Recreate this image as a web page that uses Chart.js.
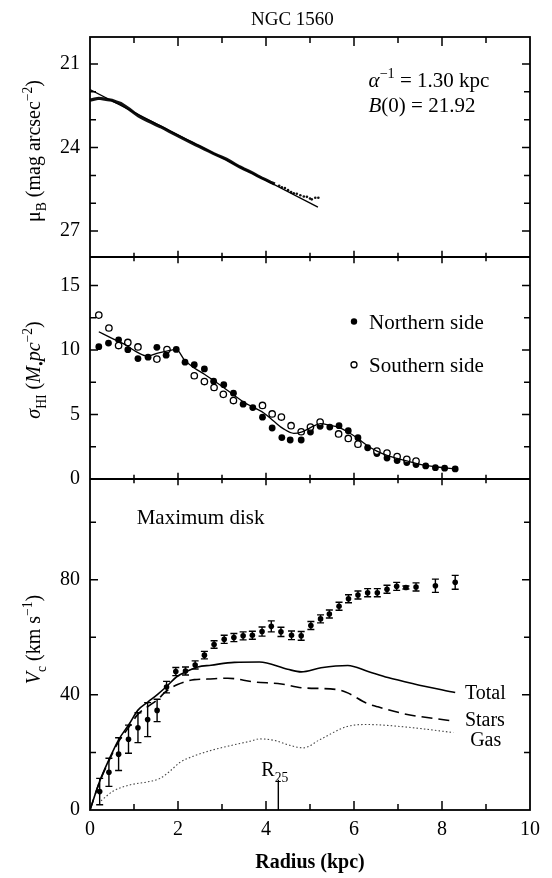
<!DOCTYPE html>
<html><head><meta charset="utf-8">
<script src="https://cdn.jsdelivr.net/npm/chart.js@4.4.1/dist/chart.umd.min.js"></script>
<style>html,body{margin:0;padding:0;background:#fff;}canvas{display:block;}</style>
</head><body>
<canvas id="c" width="552" height="878" style="width:552px;height:878px"></canvas>
<script>
// ---------------- DATA ----------------
const chartTitle = 'NGC 1560';
const xTickLabels = [0, 2, 4, 6, 8, 10];
const xMinorTicks = [1, 3, 5, 7, 9];

// Panel 1: surface brightness profile
const muTickLabels = [21, 24, 27];
const muMinorTicks = [22, 23, 25, 26];
const profR = [0,0.1,0.2,0.3,0.4,0.5,0.6,0.7,0.8,0.9,1.0,1.1,1.2,1.3,1.4,1.5,1.6,1.7,1.8,1.9,2.0,2.1,2.2,2.3,2.4,2.5,2.6,2.7,2.8,2.9,3.0,3.1,3.2,3.3,3.4,3.5,3.6,3.7,3.8,3.9,4.0,4.1,4.2];
const profMu = [22.30,22.26,22.23,22.25,22.28,22.30,22.36,22.42,22.52,22.63,22.75,22.86,22.95,23.03,23.10,23.18,23.25,23.33,23.42,23.50,23.58,23.66,23.74,23.82,23.90,23.97,24.05,24.13,24.21,24.28,24.35,24.42,24.51,24.60,24.69,24.77,24.84,24.92,25.01,25.09,25.16,25.24,25.31];
const outerR = [4.3,4.36,4.43,4.5,4.57,4.63,4.7,4.78,4.86,4.93,5.0,5.04,5.12,5.19];
const outerMu = [25.37,25.43,25.45,25.53,25.6,25.64,25.66,25.71,25.76,25.77,25.83,25.86,25.8,25.8];
const expFitR = [0, 5.18];
const expFitMu = [21.92, 26.14];

// Panel 2: HI surface density
const sigTickLabels = [0, 5, 10, 15];
const sigMinorTicks = [2.5, 7.5, 12.5];
const northR = [0.20,0.42,0.65,0.86,1.09,1.32,1.52,1.73,1.96,2.16,2.37,2.6,2.81,3.04,3.26,3.48,3.7,3.92,4.14,4.36,4.55,4.8,5.01,5.23,5.45,5.66,5.87,6.09,6.31,6.52,6.75,6.98,7.2,7.41,7.63,7.85,8.06,8.3];
const northS = [10.25,10.53,10.78,10.02,9.33,9.44,10.2,9.59,10.04,9.05,8.85,8.53,7.58,7.31,6.65,5.8,5.53,4.79,3.95,3.21,3.02,3.02,3.64,4.08,4.02,4.13,3.74,3.2,2.42,1.97,1.62,1.43,1.27,1.12,1.01,0.88,0.84,0.78];
const southR = [0.2,0.43,0.65,0.86,1.09,1.52,1.75,2.37,2.6,2.82,3.03,3.26,3.92,4.14,4.35,4.57,4.8,5.01,5.23,5.65,5.87,6.09,6.52,6.75,6.98,7.2,7.41];
const southS = [12.7,11.7,10.34,10.58,10.23,9.29,10.03,8.0,7.55,7.09,6.56,6.08,5.7,5.04,4.8,4.13,3.66,4.03,4.41,3.49,3.14,2.7,2.16,2.01,1.74,1.53,1.39];
const hiFitR = [0.2,0.49,0.79,1.09,1.31,1.54,1.77,1.96,2.15,2.37,2.6,2.82,3.05,3.28,3.5,3.73,3.95,4.18,4.4,4.63,4.82,5.09,5.24,5.47,5.66,5.88,6.09,6.3,6.52,6.75,6.98,7.2,7.43,7.66,7.89,8.12,8.3];
const hiFitS = [11.41,10.92,10.43,9.79,9.52,9.76,9.93,10.04,9.21,8.6,8.12,7.61,7.05,6.47,5.94,5.53,5.12,4.47,3.88,3.54,3.66,4.11,4.29,4.15,4.0,3.6,3.13,2.6,2.16,1.83,1.59,1.4,1.2,1.04,0.93,0.84,0.78];

// Panel 3: rotation curve
const vTickLabels = [0, 40, 80];
const vMinorTicks = [20, 60, 100];
const obsR = [0.22,0.43,0.65,0.875,1.09,1.31,1.525,1.74,1.95,2.17,2.39,2.6,2.82,3.05,3.27,3.48,3.69,3.91,4.12,4.34,4.58,4.8,5.02,5.24,5.44,5.66,5.875,6.09,6.31,6.53,6.75,6.97,7.18,7.41,7.85,8.3];
const obsV = [6.4,13.1,19.4,24.6,28.6,31.4,34.6,42.7,48.1,48.3,50.4,53.8,57.5,59.3,59.9,60.5,60.7,62.0,63.8,61.9,60.7,60.5,64.1,66.4,68.1,70.8,73.4,74.7,75.5,75.5,76.7,77.7,77.3,77.5,77.9,79.1];
const obsErr = [4.6,4.9,5.7,4.9,5.2,5.9,3.9,2.0,1.4,1.4,1.4,1.3,1.3,1.4,1.4,1.4,1.4,1.6,1.9,1.6,1.5,1.5,1.4,1.4,1.4,1.4,1.4,1.4,1.4,1.4,1.4,1.4,0.5,1.4,2.3,2.4];
const totR = [0,0.22,0.44,0.65,0.88,1.09,1.32,1.53,1.74,1.97,2.22,2.45,2.75,3.28,3.85,4.49,4.8,5.25,5.86,6.32,6.77,7.37,8.3];
const totV = [0,10.0,17.8,24.4,29.6,34.7,37.6,40.1,42.9,46.3,48.3,49.7,50.3,51.3,51.4,48.9,48.0,49.4,50.2,48.1,46.0,43.8,40.8];
const starR = [0,0.22,0.44,0.65,0.88,1.09,1.32,1.53,1.74,1.99,2.21,2.37,2.67,3.13,3.73,4.35,4.8,5.64,5.87,6.3,6.53,7.21,7.82,8.27];
const starV = [0,9.8,17.4,23.8,28.7,33.3,36.0,38.3,41.4,43.6,44.8,45.3,45.5,45.8,44.5,43.8,42.5,41.8,40.6,37.0,35.9,33.2,31.8,30.9];
const gasR = [0.25,0.52,0.9,1.28,1.58,1.81,2.04,2.35,2.8,3.26,3.64,3.86,4.24,4.47,4.85,5.23,5.84,6.29,7.2,8.26];
const gasV = [3.2,6.5,8.7,9.7,10.9,13.4,16.5,18.7,20.9,22.6,23.9,24.7,24.0,22.8,21.6,24.5,29.0,29.7,28.8,26.9];
const r25 = 4.28;

// ---------------- CHART ----------------
const FONT = '"Liberation Serif", "Times New Roman", serif';
const pts = (xs, ys) => xs.map((x, i) => ({x: x, y: ys[i]}));

function fontFor(s, size) {
  const sz = (s.sub || s.sup) ? size * 0.68 : size;
  return (s.it ? 'italic ' : '') + (s.b ? 'bold ' : '') + sz + 'px ' + FONT;
}
function richWidth(ctx, segs, size) {
  let w = 0;
  for (const s of segs) { ctx.font = fontFor(s, size); w += ctx.measureText(s.t).width; }
  return w;
}
function drawRich(ctx, segs, x, y, size, align) {
  const w = richWidth(ctx, segs, size);
  let cx = align === 'center' ? x - w / 2 : x;
  ctx.textAlign = 'left';
  ctx.textBaseline = 'alphabetic';
  for (const s of segs) {
    ctx.font = fontFor(s, size);
    const dy = s.sub ? size * 0.28 : (s.sup ? -size * 0.42 : 0);
    ctx.fillText(s.t, cx, y + dy);
    cx += ctx.measureText(s.t).width;
  }
}

const framePlugin = {
  id: 'frame',
  afterDatasetsDraw(chart) {
    const ctx = chart.ctx;
    const ca = chart.chartArea;
    const sx = chart.scales.x, y1 = chart.scales.y1, y2 = chart.scales.y2, y3 = chart.scales.y3;
    ctx.save();
    ctx.strokeStyle = '#000';
    ctx.fillStyle = '#000';
    ctx.lineWidth = 1.8;
    ctx.strokeRect(ca.left, ca.top, ca.right - ca.left, ca.bottom - ca.top);
    const b1 = y1.bottom, b2 = y2.bottom;
    ctx.beginPath();
    ctx.moveTo(ca.left, b1); ctx.lineTo(ca.right, b1);
    ctx.moveTo(ca.left, b2); ctx.lineTo(ca.right, b2);
    ctx.stroke();
    ctx.lineWidth = 1.5;
    ctx.beginPath();
    const yTicks = (sc, major, minor) => {
      for (const v of major.concat(minor)) {
        const L = major.includes(v) ? 8 : 6;
        const p = sc.getPixelForValue(v);
        if (p < sc.top + 1 || p > sc.bottom - 1) continue;
        ctx.moveTo(ca.left, p); ctx.lineTo(ca.left + L, p);
        ctx.moveTo(ca.right, p); ctx.lineTo(ca.right - L, p);
      }
    };
    yTicks(y1, muTickLabels, muMinorTicks);
    yTicks(y2, sigTickLabels, sigMinorTicks);
    yTicks(y3, vTickLabels, vMinorTicks);
    for (const v of xTickLabels.concat(xMinorTicks)) {
      const major = xTickLabels.includes(v);
      const L = major ? 9 : 6;
      const p = sx.getPixelForValue(v);
      if (p <= ca.left + 1 || p >= ca.right - 1) continue;
      ctx.moveTo(p, ca.top); ctx.lineTo(p, ca.top + L);
      ctx.moveTo(p, b1 - L * 0.7); ctx.lineTo(p, b1 + L * 0.7);
      ctx.moveTo(p, b2 - L * 0.7); ctx.lineTo(p, b2 + L * 0.7);
      ctx.moveTo(p, ca.bottom); ctx.lineTo(p, ca.bottom - L);
    }
    ctx.stroke();

    // error bars for rotation curve
    ctx.lineWidth = 1.4;
    ctx.beginPath();
    obsR.forEach((r, i) => {
      const px = sx.getPixelForValue(r);
      const yt = y3.getPixelForValue(obsV[i] + obsErr[i]);
      const yb = y3.getPixelForValue(obsV[i] - obsErr[i]);
      ctx.moveTo(px, yt); ctx.lineTo(px, yb);
      ctx.moveTo(px - 3.5, yt); ctx.lineTo(px + 3.5, yt);
      ctx.moveTo(px - 3.5, yb); ctx.lineTo(px + 3.5, yb);
    });
    // R25 marker
    const rx = sx.getPixelForValue(r25);
    ctx.moveTo(rx, y3.getPixelForValue(0)); ctx.lineTo(rx, y3.getPixelForValue(10.5));
    ctx.stroke();

    // ---- texts ----
    ctx.fillStyle = '#000';
    drawRich(ctx, [{t: chartTitle}], sx.getPixelForValue(4.6), 25, 19, 'center');

    const mid = (sc, v) => sc.getPixelForValue(v);
    // panel 1 annotation
    drawRich(ctx, [{t: 'α', it: 1}, {t: '−1', sup: 1}, {t: ' = 1.30 kpc'}], sx.getPixelForValue(6.33), mid(y1, 21.57) + 7, 21, 'left');
    drawRich(ctx, [{t: 'B', it: 1}, {t: '(0) = 21.92'}], sx.getPixelForValue(6.33), mid(y1, 22.47) + 7, 21, 'left');

    // panel 2 legend
    const lx = sx.getPixelForValue(6.0);
    const ly1 = mid(y2, 12.2), ly2 = mid(y2, 8.85);
    ctx.beginPath(); ctx.arc(lx, ly1, 3.2, 0, Math.PI * 2); ctx.fill();
    ctx.beginPath(); ctx.arc(lx, ly2, 3.0, 0, Math.PI * 2); ctx.lineWidth = 1.3; ctx.stroke();
    drawRich(ctx, [{t: 'Northern side'}], sx.getPixelForValue(6.34), ly1 + 7, 21, 'left');
    drawRich(ctx, [{t: 'Southern side'}], sx.getPixelForValue(6.34), ly2 + 7, 21, 'left');

    // panel 3 labels
    drawRich(ctx, [{t: 'Maximum disk'}], sx.getPixelForValue(1.06), mid(y3, 101.7) + 7, 21, 'left');
    drawRich(ctx, [{t: 'Total'}], sx.getPixelForValue(8.52), mid(y3, 40.9) + 7, 20, 'left');
    drawRich(ctx, [{t: 'Stars'}], sx.getPixelForValue(8.52), mid(y3, 31.5) + 7, 20, 'left');
    drawRich(ctx, [{t: 'Gas'}], sx.getPixelForValue(8.64), mid(y3, 24.5) + 7, 20, 'left');
    drawRich(ctx, [{t: 'R'}, {t: '25', sub: 1}], sx.getPixelForValue(4.2), mid(y3, 11.8), 20, 'center');

    // y-axis titles (rotated)
    const yTitle = (segs, sc, off) => {
      ctx.save();
      ctx.translate(40, (sc.top + sc.bottom) / 2 + off);
      ctx.rotate(-Math.PI / 2);
      drawRich(ctx, segs, 0, 0, 20, 'center');
      ctx.restore();
    };
    yTitle([{t: 'μ'}, {t: 'B', sub: 1}, {t: ' (mag arcsec'}, {t: '−2', sup: 1}, {t: ')'}], y1, 4);
    yTitle([{t: 'σ', it: 1}, {t: 'HI', sub: 1}, {t: ' ('}, {t: 'M', it: 1}, {t: '•', sub: 1}, {t: 'pc', it: 1}, {t: '−2', sup: 1}, {t: ')'}], y2, 2);
    yTitle([{t: 'V', it: 1}, {t: 'c', sub: 1}, {t: ' (km s'}, {t: '−1', sup: 1}, {t: ')'}], y3, -5);
    ctx.restore();
  }
};

const tickFont = {family: FONT, size: 20};
const yBase = (extra) => Object.assign({
  type: 'linear', position: 'left', stack: 'panels', offset: false,
  grid: {display: false, drawTicks: false}, border: {display: false},
  ticks: {font: tickFont, color: '#000', padding: 10},
  afterFit: (s) => { s.width = 90; }
}, extra);

new Chart(document.getElementById('c').getContext('2d'), {
  type: 'scatter',
  data: {
    datasets: [
      {label: 'Exponential fit', yAxisID: 'y1', data: pts(expFitR, expFitMu), showLine: true, borderColor: '#000', borderWidth: 1.3, pointRadius: 0},
      {label: 'Profile', yAxisID: 'y1', data: pts(profR, profMu), showLine: true, borderColor: '#111', borderWidth: 3.2, pointRadius: 0},
      {label: 'Profile outer', yAxisID: 'y1', data: pts(outerR, outerMu), showLine: false, backgroundColor: '#111', borderColor: '#111', pointRadius: 1.3, borderWidth: 0},
      {label: 'HI fit', yAxisID: 'y2', data: pts(hiFitR, hiFitS), showLine: true, cubicInterpolationMode: 'monotone', borderColor: '#000', borderWidth: 1.3, pointRadius: 0},
      {label: 'Southern side', yAxisID: 'y2', data: pts(southR, southS), showLine: false, pointRadius: 3.2, backgroundColor: '#fff', borderColor: '#000', borderWidth: 1.3},
      {label: 'Northern side', yAxisID: 'y2', data: pts(northR, northS), showLine: false, pointRadius: 3.4, backgroundColor: '#000', borderColor: '#000', borderWidth: 0},
      {label: 'Total', yAxisID: 'y3', data: pts(totR, totV), showLine: true, cubicInterpolationMode: 'monotone', borderColor: '#000', borderWidth: 1.6, pointRadius: 0},
      {label: 'Stars', yAxisID: 'y3', data: pts(starR, starV), showLine: true, cubicInterpolationMode: 'monotone', borderColor: '#000', borderWidth: 1.6, borderDash: [11, 6], pointRadius: 0},
      {label: 'Gas', yAxisID: 'y3', data: pts(gasR, gasV), showLine: true, cubicInterpolationMode: 'monotone', borderColor: '#444', borderWidth: 1.1, borderDash: [1.5, 2.2], pointRadius: 0},
      {label: 'Observed', yAxisID: 'y3', data: pts(obsR, obsV), showLine: false, pointRadius: 2.8, backgroundColor: '#000', borderColor: '#000', borderWidth: 0}
    ]
  },
  options: {
    responsive: false, animation: false, devicePixelRatio: 1,
    layout: {padding: {left: 0, right: 22, top: 37, bottom: 0}},
    plugins: {legend: {display: false}, tooltip: {enabled: false}, title: {display: false}},
    events: [],
    scales: {
      x: {
        type: 'linear', position: 'bottom', min: 0, max: 10,
        grid: {display: false, drawTicks: false}, border: {display: false},
        ticks: {font: tickFont, color: '#000', padding: 8, maxRotation: 0, autoSkip: false},
        afterBuildTicks: (s) => { s.ticks = xTickLabels.map(v => ({value: v})); },
        afterFit: (s) => { s.height = 68; },
        title: {display: true, text: 'Radius (kpc)', color: '#000', font: {family: FONT, size: 20, weight: 'bold'}, padding: {top: 0, bottom: 3}}
      },
      y1: yBase({min: 20.03, max: 27.93, reverse: true, stackWeight: 220, weight: 3,
        afterBuildTicks: (s) => { s.ticks = muTickLabels.map(v => ({value: v})); }}),
      y2: yBase({min: 0, max: 17.2, stackWeight: 222, weight: 2,
        afterBuildTicks: (s) => { s.ticks = sigTickLabels.map(v => ({value: v})); }}),
      y3: yBase({min: 0, max: 115, stackWeight: 331, weight: 1,
        afterBuildTicks: (s) => { s.ticks = vTickLabels.map(v => ({value: v})); }})
    }
  },
  plugins: [framePlugin]
});
</script>
</body></html>
